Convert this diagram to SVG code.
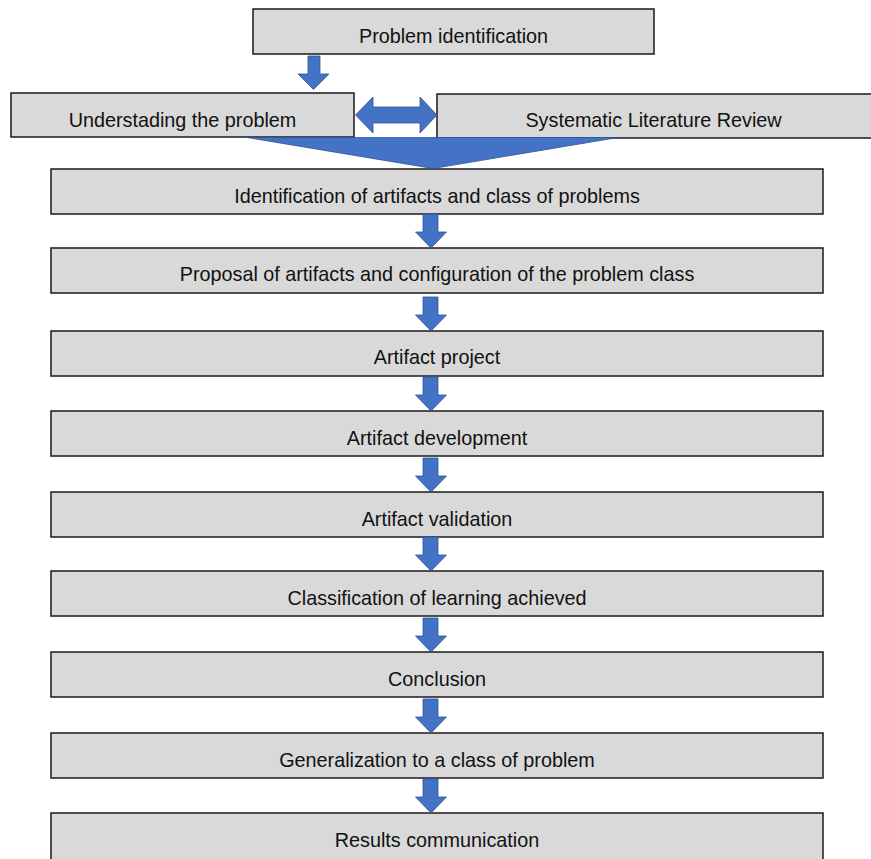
<svg xmlns="http://www.w3.org/2000/svg" width="871" height="859" viewBox="0 0 871 859">
  <style>
    .box { fill: #d9d9d9; stroke: #1a1a1a; stroke-width: 1.5; }
    .lbl { font-family: "Liberation Sans", Arial, sans-serif; font-size: 19.8px; fill: #111; text-anchor: middle; }
    .blue { fill: #4472c4; stroke: #2f5597; stroke-width: 0.8; stroke-linejoin: miter; }
  </style>
  <defs>
    <!-- down arrow between stacked steps, tip at (0,0) -->
    <path id="down" d="M -8 -34 H 7 V -16 H 15.5 L 0 0 L -15.5 -16 H -8 Z"/>
  </defs>
  <rect width="871" height="859" fill="#ffffff"/>

  <g id="n-problem-identification">
    <rect class="box" x="253" y="9" width="401" height="45"/>
    <text class="lbl" x="453.5" y="43">Problem identification</text>
  </g>
  <g id="n-understanding">
    <rect class="box" x="11" y="93" width="343" height="44"/>
    <text class="lbl" x="182.5" y="127">Understading the problem</text>
  </g>
  <g id="n-slr">
    <rect class="box" x="437" y="94" width="440" height="44"/>
    <text class="lbl" x="653.5" y="127">Systematic Literature Review</text>
  </g>

  <g id="n-identification">
    <rect class="box" x="51" y="169" width="772" height="45"/>
    <text class="lbl" x="437" y="202.5">Identification of artifacts and class of problems</text>
  </g>
  <g id="n-proposal">
    <rect class="box" x="51" y="248" width="772" height="45"/>
    <text class="lbl" x="437" y="281">Proposal of artifacts and configuration of the problem class</text>
  </g>
  <g id="n-project">
    <rect class="box" x="51" y="331" width="772" height="45"/>
    <text class="lbl" x="437" y="364">Artifact project</text>
  </g>
  <g id="n-development">
    <rect class="box" x="51" y="411" width="772" height="45"/>
    <text class="lbl" x="437" y="444.5">Artifact development</text>
  </g>
  <g id="n-validation">
    <rect class="box" x="51" y="492" width="772" height="45"/>
    <text class="lbl" x="437" y="525.5">Artifact validation</text>
  </g>
  <g id="n-learning">
    <rect class="box" x="51" y="571" width="772" height="45"/>
    <text class="lbl" x="437" y="604.5">Classification of learning achieved</text>
  </g>
  <g id="n-conclusion">
    <rect class="box" x="51" y="652" width="772" height="45"/>
    <text class="lbl" x="437" y="686">Conclusion</text>
  </g>
  <g id="n-generalization">
    <rect class="box" x="51" y="733" width="772" height="45"/>
    <text class="lbl" x="437" y="766.5">Generalization to a class of problem</text>
  </g>
  <g id="n-results">
    <rect class="box" x="51" y="813" width="772" height="60"/>
    <text class="lbl" x="437" y="846.5">Results communication</text>
  </g>

  <g id="connectors">
    <!-- problem identification to understanding -->
    <path class="blue" d="M 308 56 H 320 V 74 H 329 L 313.5 89.5 L 298 74 H 308 Z"/>
    <!-- two-way link between understanding and literature review -->
    <path class="blue" d="M 355.5 115 L 373 97 V 107 H 420 V 97 L 437 115 L 420 133 V 123 H 373 V 133 Z"/>
    <!-- merge into identification of artifacts -->
    <path class="blue" d="M 247 137.5 H 618 L 433 168.5 Z"/>
    <!-- step arrows -->
    <use href="#down" class="blue" transform="translate(431,248)"/>
    <use href="#down" class="blue" transform="translate(431,331)"/>
    <use href="#down" class="blue" transform="translate(431,411)"/>
    <use href="#down" class="blue" transform="translate(431,492)"/>
    <use href="#down" class="blue" transform="translate(431,571)"/>
    <use href="#down" class="blue" transform="translate(431,652)"/>
    <use href="#down" class="blue" transform="translate(431,733)"/>
    <use href="#down" class="blue" transform="translate(431,813)"/>
  </g>
</svg>
